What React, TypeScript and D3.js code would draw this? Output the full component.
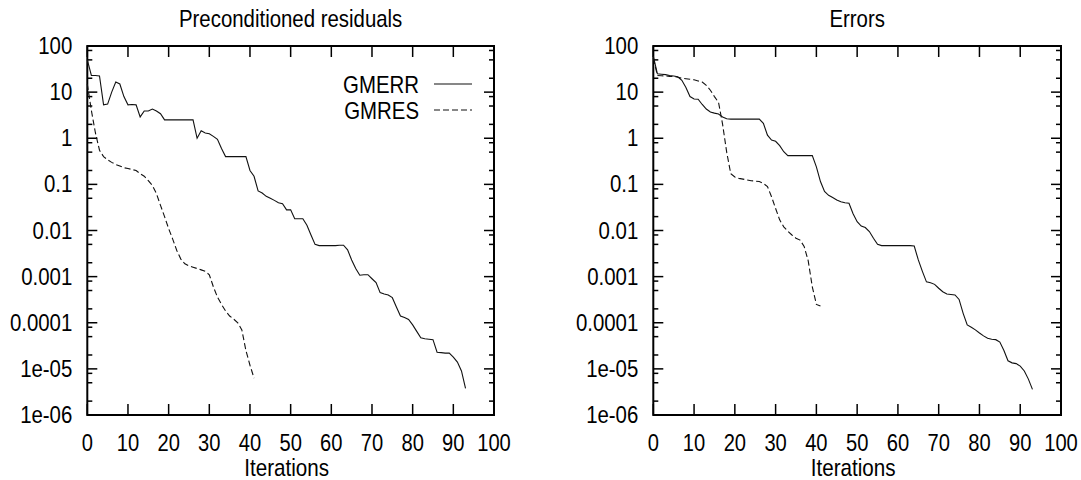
import React, { useEffect, useRef } from 'react'
import * as d3 from 'd3'

// values per iteration (index = iteration number)
const resGmerr = [
  50, 23, 23, 22.5, 5.3, 5.5, 10, 16.5, 15, 8,
  5.3, 5.4, 5.3, 2.9, 3.9, 3.9, 4.3, 3.9, 3.4, 2.5,
  2.5, 2.5, 2.5, 2.5, 2.5, 2.5, 2.5, 1.0, 1.45, 1.3,
  1.25, 1.1, 0.95, 0.6, 0.4, 0.4, 0.4, 0.4, 0.4, 0.4,
  0.2, 0.15, 0.072, 0.065, 0.055, 0.05, 0.045, 0.04, 0.038, 0.028,
  0.028, 0.018, 0.018, 0.018, 0.013, 0.008, 0.005, 0.0047, 0.0047, 0.0047,
  0.0047, 0.0047, 0.0048, 0.0048, 0.0038, 0.0023, 0.0015, 0.00107, 0.0011, 0.0011,
  0.0009, 0.00074, 0.00045, 0.00042, 0.0004, 0.00035, 0.00022, 0.00014, 0.00013, 0.000118,
  0.00009, 0.000065, 0.000047, 0.000045, 0.000044, 0.000043, 0.000023, 0.0000225, 0.000022, 0.000022,
  0.000018, 0.000014, 0.000009, 0.0000038,
]
const resGmres = [
  15, 4, 1.3, 0.55, 0.4, 0.34, 0.3, 0.27, 0.25, 0.23,
  0.22, 0.21, 0.2, 0.17, 0.15, 0.12, 0.095, 0.063, 0.035, 0.02,
  0.011, 0.0065, 0.0037, 0.0024, 0.0019, 0.0017, 0.0016, 0.0015, 0.0014, 0.0013,
  0.0011, 0.0006, 0.00036, 0.00025, 0.00018, 0.00014, 0.00012, 0.0001, 0.00007, 0.000025,
  0.000012, 0.0000063,
]
const errGmerr = [
  60, 25, 24.5, 24, 23, 22.4, 21.5, 18, 12.6, 8,
  7.1, 7, 5.4, 4.3, 3.7, 3.5, 3.35, 2.9, 2.65, 2.6,
  2.6, 2.6, 2.6, 2.6, 2.6, 2.6, 2.6, 2.1, 1.17, 0.91,
  0.86, 0.69, 0.51, 0.42, 0.42, 0.42, 0.42, 0.42, 0.42, 0.42,
  0.24, 0.115, 0.07, 0.058, 0.052, 0.046, 0.042, 0.04, 0.039, 0.023,
  0.0155, 0.0125, 0.0116, 0.0095, 0.0068, 0.005, 0.0047, 0.0047, 0.0047, 0.0047,
  0.0047, 0.0047, 0.0047, 0.0047, 0.0046, 0.0023, 0.0013, 0.00077, 0.00074, 0.00068,
  0.00056, 0.00047, 0.00042, 0.00041, 0.0004, 0.00032, 0.00016, 0.00009, 0.00008, 0.00007,
  0.00006, 0.000052, 0.000046, 0.000044, 0.000043, 0.000038, 0.000025, 0.000015, 0.0000135, 0.000013,
  0.0000115, 0.000009, 0.000006, 0.0000036,
]
const errGmres = [
  55, 23, 22.7, 22.4, 22, 21.8, 21, 20, 19.5, 19,
  18.5, 17.5, 16.5, 14, 11, 8, 6, 2.0, 0.5, 0.17,
  0.145, 0.135, 0.13, 0.125, 0.12, 0.118, 0.115, 0.105, 0.09, 0.054,
  0.03, 0.017, 0.012, 0.0096, 0.008, 0.0068, 0.0062, 0.0045, 0.0022, 0.0006,
  0.00025, 0.00023,
]

const xTicks = [0, 10, 20, 30, 40, 50, 60, 70, 80, 90, 100]
const yTicks = [100, 10, 1, 0.1, 0.01, 0.001, 0.0001, 1e-5, 1e-6]
const yTickLabels = ['100', '10', '1', '0.1', '0.01', '0.001', '0.0001', '1e-05', '1e-06']
const minorSteps = [2, 5, 8]
const seriesNames = ['GMERR', 'GMRES']

const FONT = '"Liberation Sans", Arial, sans-serif'

const App = () => {
  const svgRef = useRef<SVGSVGElement>(null)

  useEffect(() => {
    const svg = d3.select(svgRef.current)
    svg.selectAll('*').remove()

    const top = 46
    const bottom = 415
    const panels = [
      { left: 87.3, right: 494, title: 'Preconditioned residuals', gmerr: resGmerr, gmres: resGmres, legend: true },
      { left: 653.3, right: 1061, title: 'Errors', gmerr: errGmerr, gmres: errGmres, legend: false },
    ]

    const label = (g, x, y, txt, anchor, sx, size = 24) =>
      g
        .append('text')
        .attr('transform', `translate(${x},${y}) scale(${sx},1)`)
        .attr('text-anchor', anchor)
        .attr('font-family', FONT)
        .attr('font-size', size)
        .attr('fill', '#000')
        .text(txt)

    panels.forEach((p) => {
      const g = svg.append('g')
      const x = d3.scaleLinear().domain([0, 100]).range([p.left, p.right])
      const y = d3.scaleLog().domain([1e-6, 100]).range([bottom, top])

      // short ticks inside each decade
      const minor = []
      for (let e = -6; e < 2; e++) minorSteps.forEach((m) => minor.push(m * Math.pow(10, e)))
      minor.forEach((v) => {
        g.append('line').attr('x1', p.left).attr('x2', p.left + 5).attr('y1', y(v)).attr('y2', y(v))
        g.append('line').attr('x1', p.right).attr('x2', p.right - 5).attr('y1', y(v)).attr('y2', y(v))
      })
      yTicks.forEach((v, i) => {
        g.append('line').attr('x1', p.left).attr('x2', p.left + 10).attr('y1', y(v)).attr('y2', y(v))
        g.append('line').attr('x1', p.right).attr('x2', p.right - 10).attr('y1', y(v)).attr('y2', y(v))
        label(g, p.left - 15, y(v) + 8, yTickLabels[i], 'end', 0.85)
      })
      xTicks.forEach((v) => {
        g.append('line').attr('x1', x(v)).attr('x2', x(v)).attr('y1', bottom).attr('y2', bottom - 11)
        g.append('line').attr('x1', x(v)).attr('x2', x(v)).attr('y1', top).attr('y2', top + 11)
        label(g, x(v), 451, String(v), 'middle', 0.84)
      })
      g.selectAll('line').attr('stroke', '#000').attr('stroke-width', 1.5)

      g.append('rect')
        .attr('x', p.left)
        .attr('y', top)
        .attr('width', p.right - p.left)
        .attr('height', bottom - top)
        .attr('fill', 'none')
        .attr('stroke', '#000')
        .attr('stroke-width', 2)

      const line = d3
        .line<number>()
        .x((d, i) => x(i))
        .y((d) => y(d))

      g.append('path')
        .attr('d', line(p.gmerr))
        .attr('fill', 'none')
        .attr('stroke', '#111')
        .attr('stroke-width', 1.1)
      g.append('path')
        .attr('d', line(p.gmres))
        .attr('fill', 'none')
        .attr('stroke', '#111')
        .attr('stroke-width', 1.1)
        .attr('stroke-dasharray', '6,3')

      const cx = (p.left + p.right) / 2
      label(g, cx, 27, p.title, 'middle', 0.85)
      label(g, cx - 4, 476, 'Iterations', 'middle', 0.86)

      if (p.legend) {
        seriesNames.forEach((name, i) => {
          const ly = 84 + i * 26
          label(g, 419, ly + 9, name, 'end', 0.85)
          g.append('line')
            .attr('x1', 434)
            .attr('x2', 472)
            .attr('y1', ly)
            .attr('y2', ly)
            .attr('stroke', '#111')
            .attr('stroke-width', 1.1)
            .attr('stroke-dasharray', i === 1 ? '6,3' : null)
        })
      }
    })
  }, [])

  return (
    <svg
      ref={svgRef}
      width={1081}
      height={480}
      style={{ position: 'absolute', left: 0, top: 0, background: '#fff' }}
    />
  )
}

export default App
